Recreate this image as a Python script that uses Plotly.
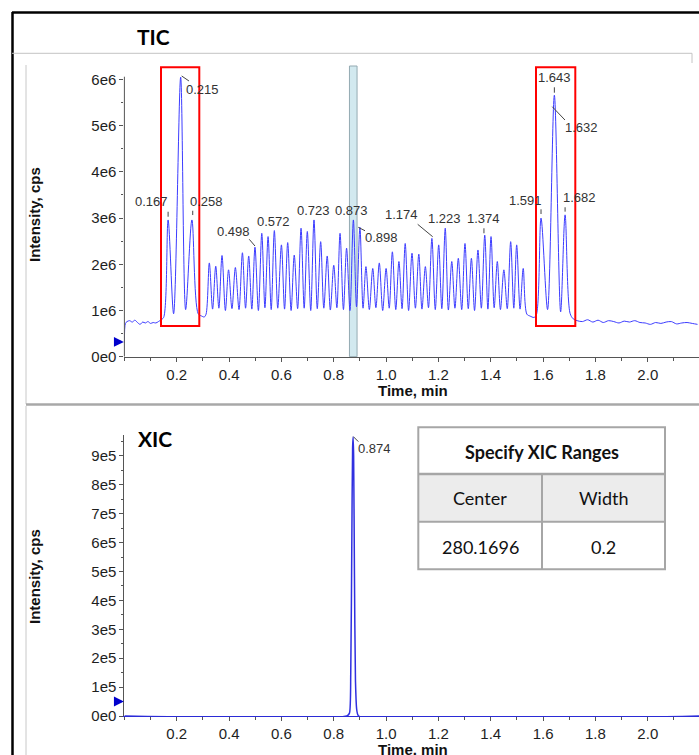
import numpy as np
import plotly.graph_objects as go

W, H = 699, 755

# ---------------- data ----------------
tic_time = [
    0.000, 0.004, 0.010, 0.020, 0.030, 0.040, 0.050, 0.060, 0.070, 0.080, 0.090,
    0.100, 0.110, 0.120, 0.130, 0.140, 0.150,
    0.167, 0.188, 0.215, 0.234, 0.258, 0.282, 0.295, 0.305, 0.312,
    0.3245, 0.337, 0.349, 0.361, 0.373, 0.386, 0.398, 0.411, 0.424, 0.438,
    0.451, 0.463, 0.475, 0.487, 0.499, 0.512, 0.525, 0.537, 0.549, 0.561,
    0.573, 0.586, 0.600, 0.612, 0.624, 0.637, 0.649, 0.662, 0.675, 0.687,
    0.699, 0.712, 0.7245, 0.737, 0.750, 0.762, 0.775, 0.787, 0.800, 0.812,
    0.824, 0.837, 0.849, 0.862, 0.875, 0.887, 0.900, 0.912, 0.923, 0.936,
    0.949, 0.961, 0.974, 0.987, 1.000, 1.012, 1.024, 1.037, 1.049, 1.061,
    1.073, 1.086, 1.099, 1.112, 1.125, 1.137, 1.150, 1.162, 1.175, 1.188,
    1.201, 1.213, 1.226, 1.238, 1.251, 1.263, 1.276, 1.289, 1.3015, 1.314,
    1.326, 1.338, 1.351, 1.364, 1.377, 1.389, 1.401, 1.413, 1.425, 1.437,
    1.450, 1.463, 1.476, 1.488, 1.499, 1.512, 1.524, 1.538, 1.550, 1.565,
    1.574, 1.592, 1.617, 1.643, 1.667, 1.684, 1.703, 1.715, 1.730, 1.750,
    1.770, 1.790, 1.810, 1.830, 1.850, 1.870, 1.890, 1.910, 1.930, 1.950,
    1.970, 1.990, 2.010, 2.030, 2.050, 2.070, 2.090, 2.110, 2.130, 2.150,
    2.170, 2.190,
]
# intensity, millions of cps
tic_intensity_m = [
    0.30, 0.72, 0.76, 0.78, 0.75, 0.79, 0.74, 0.70, 0.75, 0.73, 0.76,
    0.72, 0.74, 0.73, 0.76, 0.80, 0.85,
    2.96, 0.93, 6.05, 1.02, 2.96, 0.93, 0.88, 0.86, 0.92,
    2.03, 1.03, 1.96, 1.05, 2.19, 1.00, 1.88, 1.04, 1.93, 1.02,
    2.25, 1.05, 2.18, 1.03, 2.37, 1.00, 2.67, 1.06, 2.60, 1.02,
    2.73, 1.05, 2.42, 1.03, 2.47, 1.00, 2.20, 1.04, 2.78, 1.05,
    2.71, 1.00, 2.96, 1.04, 2.49, 1.05, 2.18, 1.01, 1.98, 1.06,
    2.67, 1.02, 2.35, 1.00, 2.96, 1.08, 2.80, 1.05, 1.95, 1.02,
    1.91, 1.06, 2.03, 1.00, 1.91, 1.05, 2.27, 1.02, 2.06, 1.04,
    2.45, 1.00, 2.24, 1.05, 2.22, 1.03, 1.95, 1.06, 2.56, 1.02,
    2.42, 1.04, 2.78, 1.01, 2.06, 1.05, 2.13, 1.02, 2.45, 1.04,
    2.13, 1.00, 2.31, 1.05, 2.63, 1.03, 2.60, 1.06, 2.06, 1.02,
    1.88, 1.04, 2.49, 1.05, 2.42, 1.03, 1.91, 0.92, 0.88, 0.85,
    0.90, 3.00, 1.02, 5.66, 0.97, 3.07, 0.94, 0.82, 0.78, 0.76,
    0.80, 0.75, 0.79, 0.74, 0.78, 0.76, 0.73, 0.77, 0.75, 0.78,
    0.74, 0.73, 0.70, 0.74, 0.72, 0.75, 0.76, 0.71, 0.73, 0.74,
    0.72, 0.70,
]

xic_time = [0.0, 0.850, 0.860, 0.865, 0.869, 0.872, 0.874, 0.876, 0.879, 0.883, 0.888, 0.895, 2.196]
xic_intensity_k = [0, 0, 10, 150, 600, 930, 965, 900, 500, 120, 20, 0, 0]  # thousands of cps

x_tick_vals = [0.2, 0.4, 0.6, 0.8, 1.0, 1.2, 1.4, 1.6, 1.8, 2.0]
x_tick_text = ["0.2", "0.4", "0.6", "0.8", "1.0", "1.2", "1.4", "1.6", "1.8", "2.0"]
tic_y_tick_vals = [0, 1e6, 2e6, 3e6, 4e6, 5e6, 6e6]
tic_y_tick_text = ["0e0", "1e6", "2e6", "3e6", "4e6", "5e6", "6e6"]
xic_y_tick_vals = [0, 1e5, 2e5, 3e5, 4e5, 5e5, 6e5, 7e5, 8e5, 9e5]
xic_y_tick_text = ["0e0", "1e5", "2e5", "3e5", "4e5", "5e5", "6e5", "7e5", "8e5", "9e5"]

tic_peak_times = [0.167, 0.215, 0.258, 0.499, 0.573, 0.7245, 0.875, 0.900,
                  1.175, 1.226, 1.377, 1.592, 1.643, 1.643, 1.684]
tic_peak_labels = ["0.167", "0.215", "0.258", "0.498", "0.572", "0.723", "0.873", "0.898",
                   "1.174", "1.223", "1.374", "1.591", "1.643", "1.632", "1.682"]
xic_peak_times = [0.874]
xic_peak_labels = ["0.874"]

highlight_time_ranges = [(0.1399, 0.2862), (1.5728, 1.7230)]
highlight_intensity_range = (0.665e6, 6.266e6)
xic_window = (0.860, 0.889)
arrow_levels = [0.32e6, 0.5e5]

table_title = "Specify XIC Ranges"
table_headers = ["Center", "Width"]
table_values = ["280.1696", "0.2"]

# ---------------- styling / layout helpers ----------------
def PX(x):
    return x / W

def PY(y):
    return 1 - y / H

X_RANGE = [0, 2.1957]
X_DOMAIN = [124.4 / W, 1.0]
TIC_DOMAIN = [PY(356.7), PY(66)]
TIC_RANGE = [0, 6.292e6]
XIC_DOMAIN = [PY(716), PY(435)]
XIC_RANGE = [0, 9.72e5]

LINE_BLUE = "#3c3cff"
TICK_FONT = dict(family="Liberation Sans, Arial, sans-serif", size=15, color="#1e1e1e")
LABEL_FONT = dict(family="Liberation Sans, Arial, sans-serif", size=13, color="#333333")
AXIS_COLOR = "#555555"

# label offsets (px, y up) and leader segments (px offsets relative to apex)
tic_label_offsets = [(-16.8, 18.2), (22.3, -12.5), (14.1, 18.2), (-21.7, 15.5), (-0.4, 8.9),
                     (-0.7, 9.9), (-1.4, 9.2), (21.4, -10.0), (-30.7, 24.1), (-1.1, 9.3),
                     (-1.0, 16.2), (-16.0, 18.1), (0.6, 17.5), (26.9, -32.1), (14.4, 17.2)]
tic_leaders = [(0, 3.2, 0, 8.2), (1, 1.2, 8.3, -3.8), (0.8, 4.9, 0.8, 9.2), (-5.7, 7.9, 0, 1.2), None,
               None, None, (-1.6, 0, 5.1, -3.4), (-14.2, 14.1, 0.8, 1.7), None,
               (-0.8, 1.9, -0.8, 6.9), (0, 4.1, 0, 8.8), (0, 2.5, 0, 7.9), (-2.1, -11.5, 10.6, -24.8),
               (0, 3.2, 0, 7.6)]
xic_label_offsets = [(20.9, -11.9)]
xic_leaders = [(0.2, 0.4, 5.2, -4.6)]

tic_t = np.array(tic_time)
tic_i = np.array(tic_intensity_m) * 1e6
xic_t = np.array(xic_time)
xic_i = np.array(xic_intensity_k) * 1e3


def height_at(times, values, t):
    idx = int(np.argmin(np.abs(np.asarray(times) - t)))
    return float(values[idx])


fig = go.Figure()

fig.add_trace(go.Scatter(x=tic_t, y=tic_i, mode="lines", xaxis="x", yaxis="y",
                         line=dict(color=LINE_BLUE, width=1, shape="spline", smoothing=0.9),
                         hoverinfo="skip", showlegend=False))
fig.add_trace(go.Scatter(x=xic_t, y=xic_i, mode="lines", xaxis="x2", yaxis="y2",
                         line=dict(color="#3030e0", width=1.5, shape="spline", smoothing=0.6),
                         cliponaxis=False, hoverinfo="skip", showlegend=False))

shapes = []
annotations = []

# start-level arrows just left of the y axes (annotation arrows are never clipped)
for lvl, xr, yr in ((arrow_levels[0], "x domain", "y"), (arrow_levels[1], "x2 domain", "y2")):
    annotations.append(dict(x=-0.001, y=lvl, xref=xr, yref=yr, text=" ", showarrow=True,
                            ax=-9, ay=0, arrowhead=2, arrowsize=0.9, arrowwidth=2.2,
                            arrowcolor="#0000cc", standoff=0, startstandoff=0))

# ---- page frame ----
def pline(x0, y0, x1, y1, color, width):
    shapes.append(dict(type="line", xref="paper", yref="paper",
                       x0=PX(x0), y0=PY(y0), x1=PX(x1), y1=PY(y1),
                       line=dict(color=color, width=width), layer="above"))

pline(12, 12.5, 699, 12.5, "#000000", 2.5)
pline(12.5, 12, 12.5, 755, "#000000", 2.5)
pline(12, 53.3, 692, 53.3, "#c4c4c4", 1)
pline(692, 53.3, 692, 63, "#c4c4c4", 1)
pline(26, 65, 26, 404, "#c8c8c8", 1)
pline(26, 404.5, 699, 404.5, "#a8a8a8", 2.5)
pline(26, 406, 26, 755, "#c8c8c8", 1)

# ---- TIC decorations ----
shapes.append(dict(type="rect", xref="x", yref="y domain", x0=xic_window[0], x1=xic_window[1],
                   y0=0, y1=1, fillcolor="#d2e9ef", line=dict(color="#94aab2", width=1),
                   layer="below"))
for (t0, t1) in highlight_time_ranges:
    shapes.append(dict(type="rect", xref="x", yref="y", x0=t0, x1=t1,
                       y0=highlight_intensity_range[0], y1=highlight_intensity_range[1],
                       line=dict(color="#ff0000", width=2), layer="above"))
# y axis line (shorter than the plot area)
shapes.append(dict(type="line", xref="x domain", yref="y", x0=0, x1=0, y0=0, y1=6.06e6,
                   line=dict(color=AXIS_COLOR, width=1), layer="above"))


def add_peak_labels(times, labels, offsets, leaders, tr_t, tr_i, xref, yref):
    for t, lab, (dx, dy), ld in zip(times, labels, offsets, leaders):
        h = height_at(tr_t, tr_i, t)
        annotations.append(dict(x=t, y=h, xref=xref, yref=yref, text=lab, showarrow=False,
                                xshift=dx, yshift=dy, font=LABEL_FONT,
                                xanchor="center", yanchor="middle"))
        if ld is not None:
            shapes.append(dict(type="line", xref=xref, yref=yref,
                               xsizemode="pixel", ysizemode="pixel",
                               xanchor=t, yanchor=h,
                               x0=ld[0], y0=ld[1], x1=ld[2], y1=ld[3],
                               line=dict(color="#444444", width=1), layer="above"))


add_peak_labels(tic_peak_times, tic_peak_labels, tic_label_offsets, tic_leaders, tic_t, tic_i, "x", "y")
add_peak_labels(xic_peak_times, xic_peak_labels, xic_label_offsets, xic_leaders, xic_t, xic_i, "x2", "y2")

# ---- titles ----
TITLE_FONT = dict(family="Lato, Open Sans, sans-serif", size=21, color="#000000")
annotations.append(dict(x=PX(153.5), y=PY(36.5), xref="paper", yref="paper", text="<b>TIC</b>",
                        showarrow=False, font=TITLE_FONT, xanchor="center", yanchor="middle"))
annotations.append(dict(x=PX(154.5), y=PY(438), xref="paper", yref="paper", text="<b>XIC</b>",
                        showarrow=False, font=TITLE_FONT, xanchor="center", yanchor="middle"))

AXT_FONT = dict(family="Liberation Sans, Arial, sans-serif", size=15, color="#111111")
for yc in (390.7, 749):
    annotations.append(dict(x=PX(412.5), y=PY(yc), xref="paper", yref="paper",
                            text="<b>Time, min</b>", showarrow=False, font=AXT_FONT,
                            xanchor="center", yanchor="middle", borderpad=0))
for yc in (215, 577):
    annotations.append(dict(x=PX(34), y=PY(yc), xref="paper", yref="paper",
                            text="<b>Intensity, cps</b>", showarrow=False, font=AXT_FONT,
                            textangle=-90, xanchor="center", yanchor="middle"))

# ---- table ----
TB_L, TB_R, TB_T, TB_B = 418.3, 665, 427.3, 569.3
ROW1, ROW2, COLX = 474, 521.7, 542
shapes.append(dict(type="rect", xref="paper", yref="paper", x0=PX(TB_L), x1=PX(TB_R),
                   y0=PY(ROW2), y1=PY(ROW1), fillcolor="#ececec", line=dict(width=0), layer="above"))
shapes.append(dict(type="rect", xref="paper", yref="paper", x0=PX(TB_L), x1=PX(TB_R),
                   y0=PY(TB_B), y1=PY(TB_T), line=dict(color="#a6a6a6", width=2), layer="above"))
pline(TB_L, ROW1, TB_R, ROW1, "#a6a6a6", 2.5)
pline(TB_L, ROW2, TB_R, ROW2, "#a6a6a6", 2)
pline(COLX, ROW1, COLX, TB_B, "#a6a6a6", 2)

TB_FONT = dict(family="Lato, Open Sans, sans-serif", size=18, color="#111111")
annotations.append(dict(x=PX((TB_L + TB_R) / 2), y=PY(451.7), xref="paper", yref="paper",
                        text="<b>" + table_title + "</b>", showarrow=False,
                        font=dict(family="Lato, Open Sans, sans-serif", size=18, color="#111111"),
                        xanchor="center", yanchor="middle"))
for xc, txt in zip((480, 603.5), table_headers):
    annotations.append(dict(x=PX(xc), y=PY(497.7), xref="paper", yref="paper", text=txt,
                            showarrow=False, font=TB_FONT, xanchor="center", yanchor="middle"))
for xc, txt in zip((480, 603.5), table_values):
    annotations.append(dict(x=PX(xc), y=PY(546.7), xref="paper", yref="paper", text=txt,
                            showarrow=False, font=TB_FONT, xanchor="center", yanchor="middle"))

# ---------------- axes ----------------
xaxis_common = dict(range=X_RANGE, domain=X_DOMAIN, tickvals=x_tick_vals, ticktext=x_tick_text,
                    ticks="outside", ticklen=4, tickcolor=AXIS_COLOR, tickwidth=1,
                    showline=True, linewidth=1, showgrid=False,
                    zeroline=False, tickfont=TICK_FONT, automargin=False,
                    minor=dict(dtick=0.1, tick0=0, ticks="outside", ticklen=3,
                               tickcolor=AXIS_COLOR, showgrid=False))

fig.update_layout(
    width=W, height=H, autosize=False,
    margin=dict(l=0, r=0, t=0, b=0, pad=0, autoexpand=False),
    paper_bgcolor="white", plot_bgcolor="white",
    showlegend=False, hovermode=False,
    xaxis=dict(anchor="y", linecolor=AXIS_COLOR, **xaxis_common),
    xaxis2=dict(anchor="y2", linecolor="#2b2bd6", **xaxis_common),
    yaxis=dict(range=TIC_RANGE, domain=TIC_DOMAIN, anchor="x", automargin=False,
               tickvals=tic_y_tick_vals, ticktext=tic_y_tick_text,
               ticks="outside", ticklen=4, tickcolor=AXIS_COLOR, showline=False,
               showgrid=False, zeroline=False, tickfont=TICK_FONT,
               minor=dict(dtick=0.5e6, tick0=0, ticks="outside", ticklen=2,
                          tickcolor=AXIS_COLOR, showgrid=False)),
    yaxis2=dict(range=XIC_RANGE, domain=XIC_DOMAIN, anchor="x2", automargin=False,
                tickvals=xic_y_tick_vals, ticktext=xic_y_tick_text,
                ticks="outside", ticklen=4, tickcolor=AXIS_COLOR, showline=True,
                linecolor=AXIS_COLOR, linewidth=1,
                showgrid=False, zeroline=False, tickfont=TICK_FONT,
                minor=dict(dtick=0.5e5, tick0=0, ticks="outside", ticklen=2,
                           tickcolor=AXIS_COLOR, showgrid=False)),
    shapes=shapes,
    annotations=annotations,
)

# remove the page's default body margin so the figure sits at the window's top-left corner
fig.write_html("out.html", config={"displayModeBar": False, "staticPlot": True},
               post_script="document.body.style.margin='0px';document.body.style.overflow='hidden';")
